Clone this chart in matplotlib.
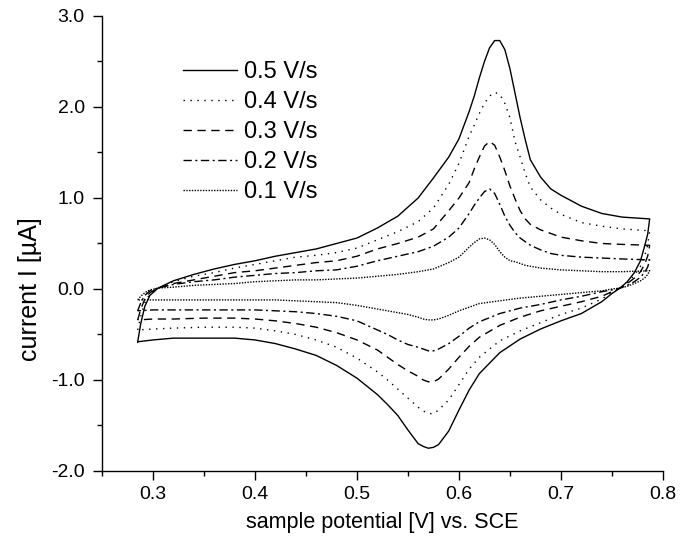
import matplotlib
matplotlib.use("Agg")
import matplotlib.pyplot as plt
from matplotlib.ticker import MultipleLocator, FormatStrFormatter

plt.rcParams['font.family'] = ['Liberation Sans', 'DejaVu Sans']

# forward (anodic) scan, potential in V
e_fwd = [0.285, 0.288, 0.292, 0.297, 0.305, 0.32, 0.34, 0.36, 0.38, 0.40,
         0.42, 0.44, 0.46, 0.48, 0.50, 0.52, 0.54, 0.56, 0.575, 0.59,
         0.60, 0.61, 0.615, 0.62, 0.625, 0.63, 0.635, 0.64, 0.645, 0.65,
         0.655, 0.66, 0.665, 0.67, 0.68, 0.69, 0.70, 0.72, 0.74, 0.76, 0.787]
# reverse (cathodic) scan
e_rev = [0.787, 0.785, 0.782, 0.778, 0.772, 0.765, 0.758, 0.75, 0.74, 0.72,
         0.70, 0.68, 0.66, 0.64, 0.62, 0.61, 0.60, 0.59, 0.58, 0.575,
         0.57, 0.565, 0.56, 0.55, 0.54, 0.53, 0.52, 0.50, 0.48, 0.46,
         0.44, 0.42, 0.40, 0.38, 0.35, 0.32, 0.30, 0.285]

# current in uA
i_fwd_05 = [-0.58, -0.38, -0.19, -0.07, 0.01, 0.09, 0.16, 0.22, 0.27, 0.31,
            0.36, 0.40, 0.44, 0.50, 0.56, 0.67, 0.80, 1.00, 1.22, 1.45,
            1.65, 1.95, 2.12, 2.32, 2.50, 2.65, 2.73, 2.73, 2.63, 2.42,
            2.15, 1.88, 1.64, 1.42, 1.23, 1.10, 1.03, 0.91, 0.83, 0.79, 0.77]
i_rev_05 = [0.77, 0.60, 0.47, 0.31, 0.18, 0.08, 0.01, -0.05, -0.14, -0.27,
            -0.35, -0.44, -0.55, -0.70, -0.93, -1.11, -1.33, -1.56, -1.71, -1.74,
            -1.75, -1.73, -1.70, -1.55, -1.39, -1.27, -1.16, -0.98, -0.84, -0.73,
            -0.66, -0.60, -0.56, -0.54, -0.54, -0.54, -0.56, -0.58]

i_fwd_04 = [-0.45, -0.30, -0.15, -0.05, 0.01, 0.08, 0.14, 0.18, 0.23, 0.27,
            0.31, 0.35, 0.37, 0.40, 0.45, 0.54, 0.63, 0.74, 0.89, 1.15,
            1.38, 1.68, 1.80, 1.93, 2.04, 2.12, 2.16, 2.14, 2.04, 1.88,
            1.62, 1.45, 1.27, 1.12, 0.98, 0.89, 0.82, 0.73, 0.69, 0.66, 0.64]
i_rev_04 = [0.64, 0.48, 0.36, 0.25, 0.15, 0.07, 0.01, -0.04, -0.11, -0.21,
            -0.28, -0.37, -0.46, -0.57, -0.75, -0.88, -1.05, -1.22, -1.33, -1.37,
            -1.37, -1.34, -1.30, -1.20, -1.10, -1.00, -0.91, -0.76, -0.64, -0.56,
            -0.50, -0.46, -0.43, -0.42, -0.42, -0.43, -0.44, -0.45]

i_fwd_03 = [-0.34, -0.22, -0.11, -0.04, 0.01, 0.06, 0.10, 0.14, 0.18, 0.20,
            0.23, 0.26, 0.29, 0.31, 0.36, 0.44, 0.50, 0.57, 0.66, 0.86,
            1.00, 1.17, 1.32, 1.45, 1.57, 1.62, 1.58, 1.45, 1.30, 1.13,
            0.99, 0.86, 0.77, 0.71, 0.65, 0.61, 0.57, 0.53, 0.50, 0.49, 0.48]
i_rev_03 = [0.48, 0.36, 0.27, 0.19, 0.12, 0.06, 0.01, -0.03, -0.08, -0.14,
            -0.19, -0.24, -0.31, -0.40, -0.53, -0.63, -0.75, -0.88, -0.99, -1.02,
            -1.02, -1.00, -0.96, -0.90, -0.83, -0.75, -0.67, -0.56, -0.48, -0.42,
            -0.38, -0.35, -0.33, -0.32, -0.32, -0.33, -0.33, -0.34]

i_fwd_02 = [-0.24, -0.15, -0.07, -0.02, 0.01, 0.05, 0.08, 0.10, 0.13, 0.15,
            0.17, 0.18, 0.20, 0.21, 0.25, 0.31, 0.36, 0.41, 0.47, 0.57,
            0.67, 0.83, 0.92, 1.00, 1.07, 1.10, 1.05, 0.93, 0.80, 0.70,
            0.62, 0.56, 0.52, 0.48, 0.43, 0.39, 0.37, 0.35, 0.34, 0.33, 0.32]
i_rev_02 = [0.32, 0.24, 0.18, 0.13, 0.08, 0.04, 0.01, -0.01, -0.03, -0.08,
            -0.12, -0.17, -0.21, -0.27, -0.36, -0.43, -0.52, -0.60, -0.66, -0.68,
            -0.68, -0.66, -0.64, -0.61, -0.56, -0.50, -0.45, -0.35, -0.30, -0.27,
            -0.25, -0.24, -0.23, -0.23, -0.23, -0.23, -0.23, -0.24]

i_fwd_01 = [-0.12, -0.08, -0.04, -0.01, 0.01, 0.02, 0.04, 0.05, 0.06, 0.08,
            0.09, 0.10, 0.10, 0.11, 0.12, 0.14, 0.16, 0.19, 0.22, 0.29,
            0.35, 0.46, 0.51, 0.55, 0.56, 0.54, 0.49, 0.41, 0.35, 0.31,
            0.30, 0.28, 0.26, 0.25, 0.23, 0.22, 0.21, 0.20, 0.19, 0.19, 0.20]
i_rev_01 = [0.20, 0.16, 0.12, 0.09, 0.06, 0.03, 0.01, 0.00, -0.02, -0.04,
            -0.06, -0.08, -0.10, -0.13, -0.16, -0.20, -0.24, -0.29, -0.33, -0.34,
            -0.34, -0.33, -0.31, -0.28, -0.26, -0.24, -0.22, -0.18, -0.15, -0.14,
            -0.13, -0.12, -0.12, -0.12, -0.12, -0.12, -0.12, -0.12]

labels = ["0.5 V/s", "0.4 V/s", "0.3 V/s", "0.2 V/s", "0.1 V/s"]
fwd = [i_fwd_05, i_fwd_04, i_fwd_03, i_fwd_02, i_fwd_01]
rev = [i_rev_05, i_rev_04, i_rev_03, i_rev_02, i_rev_01]
dashes = [None, (1, 4), (6, 4), (6, 2.5, 1.5, 2.5), (1, 1)]

fig = plt.figure(figsize=(6.92, 5.40), dpi=100)
ax = fig.add_axes([0.1474, 0.1278, 0.8106, 0.8426])

for lab, f, r, d in zip(labels, fwd, rev, dashes):
    line, = ax.plot(e_fwd + e_rev, f + r, color="black", lw=1.0, label=lab)
    if d is not None:
        line.set_dashes(d)

ax.set_xlim(0.25, 0.8)
ax.set_ylim(-2.0, 3.0)
ax.xaxis.set_major_locator(MultipleLocator(0.1))
ax.xaxis.set_minor_locator(MultipleLocator(0.05))
ax.yaxis.set_major_locator(MultipleLocator(1.0))
ax.yaxis.set_minor_locator(MultipleLocator(0.5))
ax.xaxis.set_major_formatter(FormatStrFormatter("%.1f"))
ax.yaxis.set_major_formatter(FormatStrFormatter("%.1f"))
ax.tick_params(which="major", direction="out", length=6.5, width=1.0,
               labelsize=14)
ax.tick_params(axis="y", which="major", pad=6)
ax.tick_params(axis="x", which="major", pad=4.5)
ax.tick_params(which="minor", direction="out", length=3.5, width=1.0)

for s in ["top", "right"]:
    ax.spines[s].set_visible(False)
for s in ["left", "bottom"]:
    ax.spines[s].set_linewidth(1.0)

ax.set_xlabel("sample potential [V] vs. SCE", fontsize=15.5, labelpad=6)
ax.set_ylabel("current I [\u00b5A]", fontsize=18)
ax.yaxis.set_label_coords(-0.107, 0.40)

ax.legend(loc="upper left", bbox_to_anchor=(0.144, 0.901), frameon=False,
          fontsize=17, handlelength=2.3, handletextpad=0.3,
          labelspacing=0.34, borderpad=0, borderaxespad=0)

fig.savefig("out.png", dpi=100)
